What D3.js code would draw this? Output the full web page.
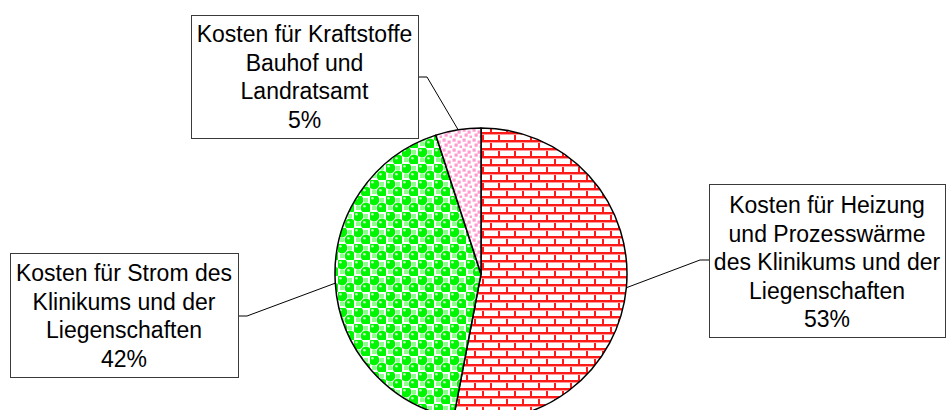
<!DOCTYPE html>
<html>
<head>
<meta charset="utf-8">
<script src="https://cdn.jsdelivr.net/npm/d3@7"></script>
<style>
  html, body { margin: 0; padding: 0; background: #fff; }
  svg { display: block; }
  text { font-family: "Liberation Sans", Arial, sans-serif; }
</style>
</head>
<body>
<svg id="chart" width="946" height="410"></svg>
<script>
// Data
const categories = [
  "Kosten für Heizung und Prozesswärme des Klinikums und der Liegenschaften",
  "Kosten für Strom des Klinikums und der Liegenschaften",
  "Kosten für Kraftstoffe Bauhof und Landratsamt"
];
const values = [53, 42, 5];
const labelLines = [
  ["Kosten für Heizung", "und Prozesswärme", "des Klinikums und der", "Liegenschaften", "53%"],
  ["Kosten für Strom des", "Klinikums und der", "Liegenschaften", "42%"],
  ["Kosten für Kraftstoffe", "Bauhof und", "Landratsamt", "5%"]
];

// Layout
const W = 946, H = 410;
const cx = 481, cy = 274, R = 146;
const boxes = [
  { x0: 709, y0: 184, x1: 945, y1: 337, firstBase: 213, attach: { x: 709, y: 260, side: "left" } },
  { x0: 10, y0: 253, x1: 238, y1: 377, firstBase: 281, attach: { x: 238, y: 316, side: "right" } },
  { x0: 191, y0: 15, x1: 418, y1: 138, firstBase: 42, attach: { x: 418, y: 77, side: "right" } }
];
const lineStep = 28.5;
const fontSize = 23;

const svg = d3.select("#chart");
const defs = svg.append("defs");

// Brick pattern (red)
const brick = defs.append("pattern").attr("id", "brick")
  .attr("patternUnits", "userSpaceOnUse").attr("width", 16).attr("height", 16)
  .attr("x", cx).attr("y", cy);
brick.append("rect").attr("width", 16).attr("height", 16).attr("fill", "#fff");
const bp = brick.append("g").attr("stroke", "#ff1a1a").attr("stroke-width", 2).attr("fill", "none");
bp.append("line").attr("x1", 0).attr("x2", 16).attr("y1", 1).attr("y2", 1);
bp.append("line").attr("x1", 0).attr("x2", 16).attr("y1", 9).attr("y2", 9);
bp.append("line").attr("x1", 1).attr("x2", 1).attr("y1", 0).attr("y2", 9);
bp.append("line").attr("x1", 9).attr("x2", 9).attr("y1", 9).attr("y2", 16);
brick.append("g").attr("stroke", "#ff9a9a").attr("stroke-width", 1).attr("fill", "none")
  .call(g => {
    g.append("line").attr("x1", 0).attr("x2", 16).attr("y1", 2.5).attr("y2", 2.5);
    g.append("line").attr("x1", 0).attr("x2", 16).attr("y1", 10.5).attr("y2", 10.5);
  });

// Sphere pattern (green)
const sph = defs.append("pattern").attr("id", "sphere")
  .attr("patternUnits", "userSpaceOnUse").attr("width", 16).attr("height", 16)
  .attr("x", cx).attr("y", cy);
sph.append("rect").attr("width", 16).attr("height", 16).attr("fill", "#fff");
[[12, 4], [4, 12]].forEach(([x, y]) => {
  sph.append("rect").attr("x", x - 2).attr("y", y - 2).attr("width", 4).attr("height", 4).attr("fill", "#8cff8c");
});
[[4, 4], [12, 12]].forEach(([x, y]) => {
  sph.append("circle").attr("cx", x).attr("cy", y).attr("r", 5.4).attr("fill", "#00f500");
  sph.append("circle").attr("cx", x - 1.6).attr("cy", y - 1.8).attr("r", 1.3).attr("fill", "#c8ffc8");
});

// Dotted pattern (pink)
const dot = defs.append("pattern").attr("id", "dots")
  .attr("patternUnits", "userSpaceOnUse").attr("width", 10).attr("height", 10)
  .attr("x", cx).attr("y", cy);
dot.append("rect").attr("width", 10).attr("height", 10).attr("fill", "#fff");
[[0.5, 0.5], [5.5, 2.5], [2.5, 5.5], [7.5, 7.5]].forEach(([x, y]) => {
  dot.append("rect").attr("x", x).attr("y", y).attr("width", 3.2).attr("height", 3.2).attr("fill", "#ff9ccf");
});

const fills = ["url(#brick)", "url(#sphere)", "url(#dots)"];

const pie = d3.pie().sort(null).value(d => d).startAngle(0).endAngle(2 * Math.PI);
const arcs = pie(values);
const arc = d3.arc().innerRadius(0).outerRadius(R);

const g = svg.append("g").attr("transform", `translate(${cx},${cy})`);
g.selectAll("path.slice").data(arcs).join("path")
  .attr("class", "slice")
  .attr("d", arc)
  .attr("fill", (d, i) => fills[i])
  .attr("stroke", "#000")
  .attr("stroke-width", 1.5)
  .attr("stroke-linejoin", "round");

// Leader lines: box attach -> short horizontal -> pie edge at mid angle
arcs.forEach((a, i) => {
  const mid = (a.startAngle + a.endAngle) / 2;
  const ex = cx + R * Math.sin(mid), ey = cy - R * Math.cos(mid);
  const at = boxes[i].attach;
  const hx = at.side === "left" ? at.x - 9 : at.x + 9;
  svg.append("path")
    .attr("d", `M${at.x},${at.y}L${hx},${at.y}L${ex},${ey}`)
    .attr("fill", "none").attr("stroke", "#000").attr("stroke-width", 1);
});

// Label boxes
boxes.forEach((b, i) => {
  svg.append("rect")
    .attr("x", b.x0 + 0.5).attr("y", b.y0 + 0.5)
    .attr("width", b.x1 - b.x0).attr("height", b.y1 - b.y0)
    .attr("fill", "#fff").attr("stroke", "#3a3a3a").attr("stroke-width", 1);
  const tx = (b.x0 + b.x1) / 2;
  svg.append("text")
    .attr("text-anchor", "middle")
    .attr("font-size", fontSize)
    .attr("fill", "#000")
    .selectAll("tspan").data(labelLines[i]).join("tspan")
    .attr("x", tx)
    .attr("y", (d, j) => b.firstBase + j * lineStep)
    .text(d => d);
});
</script>
</body>
</html>
